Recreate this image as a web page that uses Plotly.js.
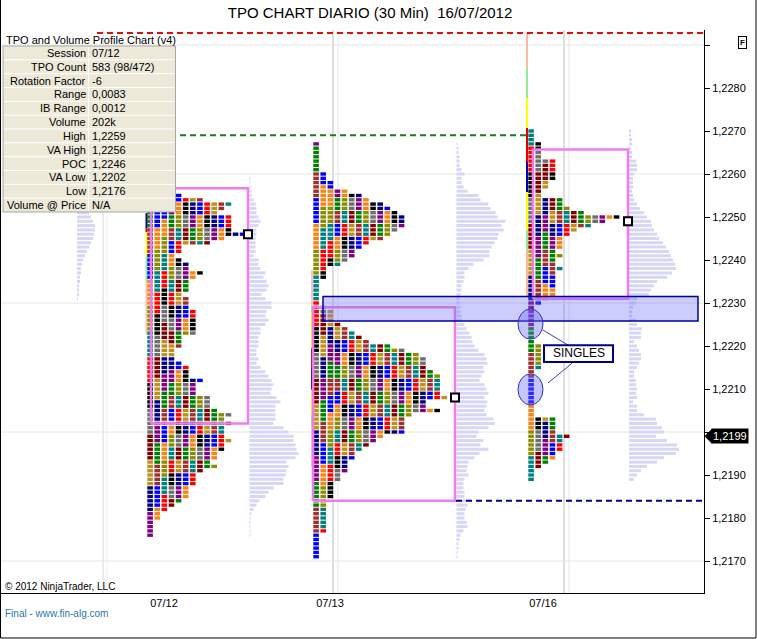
<!DOCTYPE html>
<html><head><meta charset="utf-8">
<script src="https://cdn.plot.ly/plotly-3.0.1.min.js"></script>
<style>html,body{margin:0;padding:0;background:#fff}</style>
</head><body>
<div id="chart" style="width:757px;height:639px"></div>
<script>
// ---------------- DATA ----------------
const ROW = 0.0001;
const sessionLabels = ['07/12', '07/13', '07/16'];

// TPO counts per price row (low -> high), one row = 0.0001
const day1Low = 1.2176;
const day1Tpo = [1,1,1,1,2,2,3,4,5,6, 6,6,7,7,7,8,10,9,10,10, 11,11,12,11,11,11,12,11,12,10,
  9,9,9,7,7,7,8,6,6,6, 5,4,4,4,5,5,5,7,7,7, 7,7,7,6,6,6,5,6,6,6,
  7,8,6,6,5,4,5,5,9,11, 14,12,12,12,12,10,11,12,8,5, 4,3,3,2];
const day1Vol = [1,1,1,1,1,2,4,7,10,16, 19,24,34,34,36,37,39,37,46,49, 47,46,44,44,39,34,24,26,26,26,
  26,31,27,21,22,24,22,19,16,11, 7,9,7,7,9,9,9,11,11,16, 19,16,17,22,22,16,12,17,19,17,
  14,16,11,9,9,4,6,6,6,6, 7,7,9,11,9,7,7,6,4,2, 2,1,1,1];

const day2Low = 1.2171;
const day2Tpo = [1,1,1,1,1,1,2,2,2,2, 2,2,2,2,3,3,3,3,4,4, 5,5,5,6,6,7,8,9,10,13,
  13,13,13,14,18,16,16,19,18,18, 18,18,18,17,16,16,16,15,13,11, 8,7,6,5,4,3,3,3,2,1,
  1,1,1,1,1,2,2,2,4,5, 6,6,7,8,10,11,12,13,13,13, 12,11,10,8,7,5,3,3,2,2, 1,1,1,1,1,1,1];
const day2Vol = [1,1,2,2,3,4,7,11,10,8, 8,9,11,10,8,8,7,7,8,12, 10,11,12,18,23,32,24,27,20,22,
  32,38,37,30,28,30,31,28,32,30, 28,23,25,28,27,31,30,28,22,18, 16,15,13,10,8,6,5,4,4,3,
  3,4,5,5,7,8,8,12,17,27, 33,33,35,38,41,42,47,45,49,41, 39,34,32,24,22,11,7,5,5,8, 5,3,3,3,2,2,1];

const day3Low = 1.2189;
const day3Tpo = [1,1,1,2,3,4,4,5,5,5, 6,4,4,4,4,1,1,1,1,1, 1,1,1,1,1,1,2,2,2,2,
  2,2,1,1,1,1,1,1,1,1, 1,2,3,4,4,4,4,4,4,5, 4,4,5,4,5,5,5,6,7,9,
  11,13,8,6,5,5,2,2,3,3, 4,4,4,4,4,2,2,2,2,1, 1,1];
const day3Vol = [5,8,12,18,28,35,47,50,48,38, 27,35,33,28,27,15,8,8,4,8, 7,8,7,7,5,5,8,10,12,12,
  10,8,5,12,12,13,8,7,3,3, 4,7,8,20,22,25,28,38,43,47, 46,44,42,40,37,34,30,28,25,23,
  22,18,15,11,8,5,4,3,4,4, 4,5,8,8,7,3,3,2,3,3, 2,2];

// previous session volume profile (partly hidden by the info table)
const prevLow = 1.2231;
const prevVol = [1,2,2,2,3,3,4,4,5,6,8,10,12,14,16,17,18,18,16,14,12,10,8,6,5,4,3,2,2];

const pocs   = [1.2246, 1.2208, 1.2249];
const vaHigh = [1.22567, 1.2229, 1.22657];
const vaLow  = [1.2202, 1.2184, 1.2231];
const lastPrice = 1.2199;
const lastPriceText = '1,2199';

const yTickVals = [1.2170,1.2180,1.2190,1.2200,1.2210,1.2220,1.2230,1.2240,1.2250,1.2260,1.2270,1.2280,1.2290];
const yTickText = ['1,2170','1,2180','1,2190','','1,2210','1,2220','1,2230','1,2240','1,2250','1,2260','1,2270','1,2280',''];
const gridPrices = [1.2170, 1.2200, 1.2230, 1.2260, 1.2290];

const tableTitle = 'TPO and Volume Profile Chart (v4)';
const tableLabels = ['Session','TPO Count','Rotation Factor','Range','IB Range','Volume','High','VA High','POC','VA Low','Low','Volume @ Price'];
const tableValues = ['07/12','583 (98/472)','-6','0,0083','0,0012','202k','1,2259','1,2256','1,2246','1,2202','1,2176','N/A'];

// reference levels (dashed)
const redLevel = 1.22928, greenLevel = 1.2269, navyLevel = 1.2184;

// ---------------- LAYOUT / STYLE ----------------
const W = 757, H = 639, ML = 0, MR = 53, MT = 30, MB = 46;
const PW = W - ML - MR, PH = H - MT - MB;
const yMin = 1.216256, yMax = 1.2293488;
const FONT = 'Liberation Sans, Arial, sans-serif';
const COL_W = 7.12, CELL_W = 5.6, CELL_H = 0.000078, VOL_H = 0.00007;
const tpoX0 = [147.3, 313.3, 528.3];
const volX0 = [249.5, 456.5, 629];
const prevVolX0 = 77;
const boxX = [[151, 248], [313, 455], [533, 628]];
const dateX = [164, 330, 543];

const periodColors = ['#800080','#C0901E','#6E6E6E','#FF0000','#8C8C00','#0000FF','#008000',
  '#000080','#800000','#000000','#008080','#F88418','#A0302D'];
function cellColor(day, row, col) {
  const blk = Math.floor((row + 3 * col) / (6 - Math.min(col, 3)));
  return periodColors[(col * 4 + blk * 7 + day * 5) % periodColors.length];
}

const px = v => v / PW;                     // page x -> paper
const py = v => (H - MB - v) / PH;          // page y -> paper
const pp = p => (p - yMin) / (yMax - yMin); // price -> paper

const traces = [];
function volTrace(low, vals, x0) {
  return {type: 'bar', orientation: 'h', y: vals.map((v, i) => low + i * ROW), x: vals, base: x0,
    width: VOL_H, marker: {color: '#D6D6F6', line: {width: 0}}, hoverinfo: 'skip', showlegend: false};
}
traces.push(volTrace(prevLow, prevVol, prevVolX0));
const days = [
  {low: day1Low, tpo: day1Tpo, vol: day1Vol},
  {low: day2Low, tpo: day2Tpo, vol: day2Vol},
  {low: day3Low, tpo: day3Tpo, vol: day3Vol}
];
days.forEach((d, k) => traces.push(volTrace(d.low, d.vol, volX0[k])));
days.forEach((d, k) => {
  const y = [], base = [], x = [], col = [];
  d.tpo.forEach((n, r) => {
    const p = d.low + r * ROW;
    for (let c = 0; c < n; c++) {
      y.push(p); base.push(tpoX0[k] + c * COL_W); x.push(CELL_W); col.push(cellColor(k, r, c));
    }
  });
  traces.push({type: 'bar', orientation: 'h', y, x, base, width: CELL_H,
    marker: {color: col, line: {width: 0}}, hoverinfo: 'skip', showlegend: false});
});
// value area boxes
days.forEach((d, k) => {
  const [a, b] = boxX[k];
  traces.push({type: 'scatter', mode: 'lines', x: [a, b, b, a, a],
    y: [vaLow[k], vaLow[k], vaHigh[k], vaHigh[k], vaLow[k]],
    line: {color: '#F07CF0', width: 2.5}, hoverinfo: 'skip', showlegend: false});
});
// POC markers
traces.push({type: 'scatter', mode: 'markers', x: boxX.map(b => b[1]), y: pocs,
  marker: {symbol: 'square', size: 8, color: '#fff', line: {color: '#000', width: 2}},
  hoverinfo: 'skip', showlegend: false});

const shapes = [];
// grid
gridPrices.forEach(p => shapes.push({type: 'line', xref: 'x', yref: 'y', x0: 0, x1: PW, y0: p, y1: p,
  line: {color: '#E6E6E6', width: 1}, layer: 'below'}));
[[103, '#D6D6D6'], [107, '#EEEEEE'], [333, '#BDBDBD'], [338, '#E4E4E4'], [564, '#BDBDBD'], [569, '#E4E4E4']]
  .forEach(([x, c]) => shapes.push({type: 'line', xref: 'x', yref: 'paper', x0: x, x1: x, y0: 0, y1: 1,
    line: {color: c, width: 1}, layer: 'below'}));
// initial balance / period stripes
const stripes = [
  [146.5, [[1.22474,1.22509,'#000080'],[1.22465,1.22474,'#E00000'],[1.22407,1.22465,'#FFFF00'],[1.22349,1.22407,'#90EE90'],[1.22226,1.22349,'#FFC0A8']]],
  [312, [[1.22295,1.22377,'#FFC0C8'],[1.22279,1.22295,'#90EE90'],[1.22195,1.22279,'#FFFF00'],[1.22149,1.22195,'#A01010'],[1.22098,1.22149,'#000080'],[1.22040,1.22098,'#FFFF00'],[1.22012,1.22040,'#90EE90'],[1.21919,1.22012,'#FFC8B0']]],
  [527, [[1.22847,1.22928,'#FFB8A0'],[1.22777,1.22847,'#90EE90'],[1.22707,1.22777,'#FFFF00'],[1.22628,1.22707,'#E00000'],[1.22558,1.22628,'#0000C0'],[1.22470,1.22558,'#FFFF00'],[1.22423,1.22470,'#90EE90'],[1.22314,1.22423,'#FFB890']]]
];
stripes.forEach(([x, segs]) => segs.forEach(([a, b, c]) => shapes.push({type: 'line', xref: 'x', yref: 'y',
  x0: x, x1: x, y0: a, y1: b, line: {color: c, width: 2}, layer: 'below'})));
// dashed reference lines
shapes.push({type: 'line', xref: 'x', yref: 'y', x0: 97, x1: PW, y0: redLevel, y1: redLevel, line: {color: '#E01010', width: 2, dash: '6px,4px'}});
shapes.push({type: 'line', xref: 'x', yref: 'y', x0: 100, x1: 527, y0: greenLevel, y1: greenLevel, line: {color: '#1E7A1E', width: 2, dash: '6px,4px'}});
shapes.push({type: 'line', xref: 'x', yref: 'y', x0: 456, x1: PW, y0: navyLevel, y1: navyLevel, line: {color: '#000090', width: 2, dash: '6px,4px'}});
// highlighted zone
shapes.push({type: 'rect', xref: 'x', yref: 'y', x0: 323, x1: 698, y0: 1.22258, y1: 1.22315,
  fillcolor: 'rgba(110,110,250,0.35)', line: {color: '#0000A0', width: 1.5}});
// singles ellipses
shapes.push({type: 'circle', xref: 'x', yref: 'y', x0: 518, x1: 543, y0: 1.22216, y1: 1.22286,
  fillcolor: 'rgba(110,110,250,0.4)', line: {color: '#3030C0', width: 1}});
shapes.push({type: 'circle', xref: 'x', yref: 'y', x0: 518, x1: 543, y0: 1.22063, y1: 1.22135,
  fillcolor: 'rgba(110,110,250,0.4)', line: {color: '#3030C0', width: 1}});
shapes.push({type: 'line', xref: 'x', yref: 'y', x0: 543, x1: 568, y0: 1.22237, y1: 1.22202, line: {color: '#4040C0', width: 1}});
shapes.push({type: 'line', xref: 'x', yref: 'y', x0: 548, x1: 572, y0: 1.22114, y1: 1.22160, line: {color: '#4040C0', width: 1}});
shapes.push({type: 'rect', xref: 'x', yref: 'y', x0: 544, x1: 613, y0: 1.22163, y1: 1.22202,
  fillcolor: '#FFFFFF', line: {color: '#000080', width: 2}});
// info table
const tTop = 46, tBot = 212, tL = 3, tR = 175.5, tMid = 88.5, rowH = (tBot - tTop) / tableLabels.length;
shapes.push({type: 'rect', xref: 'paper', yref: 'paper', x0: px(tL), x1: px(tR), y0: py(tBot), y1: py(tTop),
  fillcolor: '#ECE9D8', line: {color: '#A8A8A8', width: 1}});
for (let k = 1; k < tableLabels.length; k++) {
  const yy = py(tTop + k * rowH);
  shapes.push({type: 'line', xref: 'paper', yref: 'paper', x0: px(tL + 1), x1: px(tR - 1), y0: yy, y1: yy, line: {color: '#FFFFFF', width: 1}});
}
shapes.push({type: 'line', xref: 'paper', yref: 'paper', x0: px(tMid), x1: px(tMid), y0: py(tBot - 1), y1: py(tTop + 1), line: {color: '#FFFFFF', width: 1}});
// last price tag arrow
const tagY = pp(lastPrice), hh = 7 / PH;
shapes.push({type: 'path', xref: 'paper', yref: 'paper',
  path: `M ${px(705)},${tagY} L ${px(712)},${tagY + hh} L ${px(712)},${tagY - hh} Z`,
  fillcolor: '#000', line: {color: '#000', width: 1}});
// outer frame
shapes.push({type: 'path', xref: 'paper', yref: 'paper',
  path: `M ${px(0.5)},${py(0)} L ${px(0.5)},${py(638)} L ${px(756)},${py(638)} L ${px(756)},${py(0)}`,
  line: {color: '#000', width: 1}});

const annotations = [];
annotations.push({xref: 'paper', yref: 'paper', x: px(4), y: py(39.5), xanchor: 'left', yanchor: 'middle',
  text: tableTitle, showarrow: false, font: {family: FONT, size: 11, color: '#000'}});
tableLabels.forEach((t, k) => {
  const yy = py(tTop + (k + 0.5) * rowH);
  annotations.push({xref: 'paper', yref: 'paper', x: px(tMid - 1), y: yy, xanchor: 'right', yanchor: 'middle',
    text: t, showarrow: false, font: {family: FONT, size: 11, color: '#000'}});
  annotations.push({xref: 'paper', yref: 'paper', x: px(tMid + 1), y: yy, xanchor: 'left', yanchor: 'middle',
    text: tableValues[k], showarrow: false, font: {family: FONT, size: 11, color: '#000'}});
});
annotations.push({xref: 'x', yref: 'y', x: 578.5, y: 1.221826, text: 'SINGLES', showarrow: false,
  font: {family: FONT, size: 12, color: '#000'}});
annotations.push({xref: 'paper', yref: 'paper', x: px(711), y: tagY, xanchor: 'left', yanchor: 'middle',
  text: lastPriceText, showarrow: false, bgcolor: '#000', borderpad: 1,
  font: {family: FONT, size: 11, color: '#fff'}});
annotations.push({xref: 'paper', yref: 'paper', x: px(747), y: py(35.5), text: '<b>F</b>', showarrow: false,
  font: {family: FONT, size: 8, color: '#000'}, bordercolor: '#000', borderwidth: 1, borderpad: 1, bgcolor: '#fff'});
annotations.push({xref: 'paper', yref: 'paper', x: px(3), y: py(586), xanchor: 'left', yanchor: 'middle',
  text: '© 2012 NinjaTrader, LLC', showarrow: false, font: {family: FONT, size: 10, color: '#000'}});
annotations.push({xref: 'paper', yref: 'paper', x: px(3), y: py(613), xanchor: 'left', yanchor: 'middle',
  text: 'Final - www.fin-alg.com', showarrow: false, font: {family: FONT, size: 10, color: '#2A78A8'}});

const layout = {
  width: W, height: H, autosize: false,
  margin: {l: ML, r: MR, t: MT, b: MB, pad: 0},
  paper_bgcolor: '#fff', plot_bgcolor: '#fff',
  barmode: 'overlay', showlegend: false,
  title: {text: 'TPO CHART DIARIO (30 Min)\u00A0\u00A016/07/2012', x: 370 / W, xref: 'container', xanchor: 'center',
    y: 1 - 13 / H, yref: 'container', yanchor: 'middle', font: {family: FONT, size: 15, color: '#000'}},
  xaxis: {range: [0, PW], showgrid: false, zeroline: false, showline: true, linecolor: '#000', linewidth: 1,
    tickmode: 'array', tickvals: dateX, ticktext: sessionLabels, ticks: '',
    tickfont: {family: FONT, size: 11, color: '#000'}, fixedrange: true},
  yaxis: {range: [yMin, yMax], side: 'right', showgrid: false, zeroline: false, showline: true,
    linecolor: '#000', linewidth: 1, tickmode: 'array', tickvals: yTickVals, ticktext: yTickText,
    ticks: 'outside', ticklen: 5, tickcolor: '#000', tickfont: {family: FONT, size: 11, color: '#000'}, fixedrange: true},
  shapes, annotations
};
Plotly.newPlot('chart', traces, layout, {staticPlot: true, displayModeBar: false});
</script>
</body></html>
